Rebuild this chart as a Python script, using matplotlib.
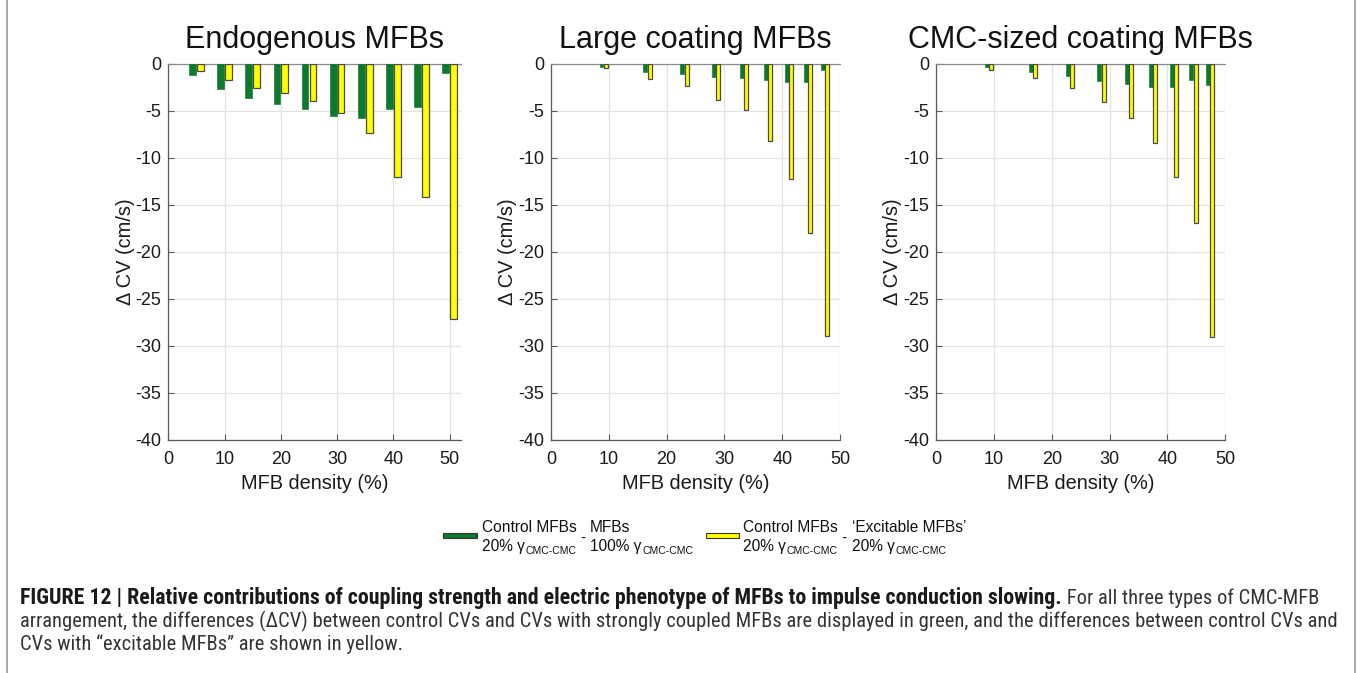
import matplotlib
matplotlib.use("Agg")
import matplotlib.pyplot as plt
from matplotlib.patches import Rectangle
from matplotlib.lines import Line2D
from matplotlib import font_manager

plt.rcParams['font.family'] = ['Liberation Sans', 'DejaVu Sans']
plt.rcParams['axes.unicode_minus'] = False

# ---------------- data ----------------
titles = ["Endogenous MFBs", "Large coating MFBs", "CMC-sized coating MFBs"]
density_endo = [5, 10, 15, 20, 25, 30, 35, 40, 45, 50]
green_endo = [-1.27, -2.76, -3.64, -4.3, -4.8, -5.55, -5.75, -4.8, -4.65, -0.96]
yellow_endo = [-0.78, -1.8, -2.6, -3.14, -4.03, -5.3, -7.4, -12.1, -14.2, -27.1]

density_large = [9.1, 16.7, 23.1, 28.6, 33.35, 37.5, 41.2, 44.5, 47.4]
green_large = [-0.36, -0.9, -1.1, -1.46, -1.5, -1.79, -2.0, -1.93, -0.64]
yellow_large = [-0.43, -1.6, -2.36, -3.93, -4.93, -8.2, -12.3, -18.0, -29.0]

density_cmc = [9.1, 16.7, 23.1, 28.6, 33.35, 37.5, 41.2, 44.5, 47.4]
green_cmc = [-0.39, -0.86, -1.35, -1.89, -2.17, -2.5, -2.46, -1.78, -2.28]
yellow_cmc = [-0.64, -1.53, -2.6, -4.14, -5.78, -8.45, -12.09, -16.97, -29.05]

xticks = [0, 10, 20, 30, 40, 50]
yticks = [0, -5, -10, -15, -20, -25, -30, -35, -40]
xlabel = "MFB density (%)"
ylabel = "\u0394 CV (cm/s)"

GREEN = "#0A7A2C"
GREEN_EDGE = "#08692A"
YELLOW = "#FFFF00"
YEDGE = "#4A4A4A"

W, H = 1360, 673
fig = plt.figure(figsize=(W / 100, H / 100), dpi=100)

def fx(px):
    return px / W

def fy(py):
    return 1 - py / H

panels = [
    (density_endo, green_endo, yellow_endo, 168.3, 461.0, 52.0, 1.2, 0.7),
    (density_large, green_large, yellow_large, 551.0, 840.0, 50.0, 0.68, 0.36),
    (density_cmc, green_cmc, yellow_cmc, 936.0, 1225.3, 50.0, 0.68, 0.36),
]
top_px, bot_px = 63.5, 440.0

for i, (dens, g, y, l, r, xmax, bw, off) in enumerate(panels):
    ax = fig.add_axes([fx(l), fy(bot_px), (r - l) / W, (bot_px - top_px) / H])
    xs_g = [d - off for d in dens]
    xs_y = [d + off for d in dens]
    ax.bar(xs_g, g, width=bw, color=GREEN, edgecolor=GREEN_EDGE, linewidth=0.4, zorder=3)
    ax.bar(xs_y, y, width=bw, color=YELLOW, edgecolor=YEDGE, linewidth=0.9, zorder=3)
    ax.set_xlim(0, xmax)
    ax.set_ylim(-40, 0)
    ax.set_xticks(xticks)
    ax.set_yticks(yticks)
    ax.set_xticklabels([str(t) for t in xticks])
    ax.set_yticklabels([str(t) for t in yticks])
    ax.grid(True, color="#E3E3E3", linewidth=0.9, zorder=0)
    ax.set_axisbelow(True)
    ax.spines["right"].set_visible(False)
    ax.spines["top"].set_color("#8C8C8C")
    ax.spines["left"].set_color("#5A5A5A")
    ax.spines["bottom"].set_color("#5A5A5A")
    for s in ["top", "left", "bottom"]:
        ax.spines[s].set_linewidth(0.9)
    ax.tick_params(direction="in", length=4, width=0.8, color="#5A5A5A",
                   labelsize=13, labelcolor="#1A1A1A")
    ax.tick_params(axis="x", pad=8)
    ax.tick_params(axis="y", pad=5)
    ax.set_xlabel(xlabel, fontsize=14.4, color="#1A1A1A", labelpad=4)
    ax.set_ylabel(ylabel, fontsize=14.4, color="#1A1A1A", labelpad=0.5)
    ax.set_title(titles[i], fontsize=22, color="#111111", pad=11)

# ---------------- legend ----------------
fig.canvas.draw()
renderer = fig.canvas.get_renderer()

LFS = 11.2
SFS = 7.5

def put(xpx, ypx, s, size=LFS, **kw):
    t = fig.text(fx(xpx), fy(ypx), s, fontsize=size, va="center", ha="left",
                 color="#111111", **kw)
    return t

def width_px(t):
    bb = t.get_window_extent(renderer=renderer)
    return bb.width

def gamma_line(xpx, ypx, prefix):
    t = put(xpx, ypx, prefix + " \u03b3")
    wpx = width_px(t)
    put(xpx + wpx + 1, ypx + 4, "CMC-CMC", size=SFS)

# green entry
fig.patches.append(Rectangle((fx(443), fy(538)), (477 - 443) / W, 5 / H,
                             transform=fig.transFigure, facecolor=GREEN,
                             edgecolor="#333333", linewidth=0.8))
put(482, 528, "Control MFBs")
gamma_line(482, 547, "20%")
put(580, 538, "-")
put(590, 528, "MFBs")
gamma_line(590, 547, "100%")

# yellow entry
fig.patches.append(Rectangle((fx(706), fy(538)), (739 - 706) / W, 5 / H,
                             transform=fig.transFigure, facecolor=YELLOW,
                             edgecolor="#333333", linewidth=0.8))
put(743, 528, "Control MFBs")
gamma_line(743, 547, "20%")
put(841, 538, "-")
put(852, 528, "\u2018Excitable MFBs\u2019")
gamma_line(852, 547, "20%")

# ---------------- caption ----------------
avail = set(f.name for f in font_manager.fontManager.ttflist)
cap_family = ["Liberation Sans"]
for cand in ["Roboto Condensed", "Liberation Sans Narrow", "Open Sans Condensed"]:
    if cand in avail:
        cap_family = [cand]
        break
cap_family = cap_family + ["DejaVu Sans"]

bold_txt = ("FIGURE 12 | Relative contributions of coupling strength and electric "
            "phenotype of MFBs to impulse conduction slowing.")
reg1 = " For all three types of CMC-MFB"
line2 = ("arrangement, the differences (\u0394CV) between control CVs and CVs with strongly "
         "coupled MFBs are displayed in green, and the differences between control CVs and")
line3 = "CVs with \u201cexcitable MFBs\u201d are shown in yellow."

CFS = 10.5
x0 = 20
tb = fig.text(fx(x0), fy(598), bold_txt, fontsize=CFS, fontweight="bold",
              family=cap_family, va="center", ha="left", color="#1A1A1A")
tr = fig.text(fx(x0), fy(598), reg1, fontsize=CFS, family=cap_family,
              va="center", ha="left", color="#333333")
t2 = fig.text(fx(x0), fy(621), line2, fontsize=CFS, family=cap_family,
              va="center", ha="left", color="#333333")
t3 = fig.text(fx(x0), fy(644), line3, fontsize=CFS, family=cap_family,
              va="center", ha="left", color="#333333")
reg_scale = (1343 - x0) / width_px(t2)
bold_scale = (1067 - x0) / width_px(tb)
bold_scale = min(bold_scale, reg_scale * 1.12)
for t in (tr, t2, t3):
    t.set_fontsize(CFS * reg_scale)
tb.set_fontsize(CFS * bold_scale)
fig.canvas.draw()
tr.set_x(fx(x0 + width_px(tb)))

# frame
fig.add_artist(Line2D([fx(7), fx(7)], [0, 1], transform=fig.transFigure,
                      color="#9A9A9A", linewidth=1.2))
fig.add_artist(Line2D([fx(1355), fx(1355)], [0, 1], transform=fig.transFigure,
                      color="#9A9A9A", linewidth=1.2))

fig.savefig("out.png", dpi=100)
